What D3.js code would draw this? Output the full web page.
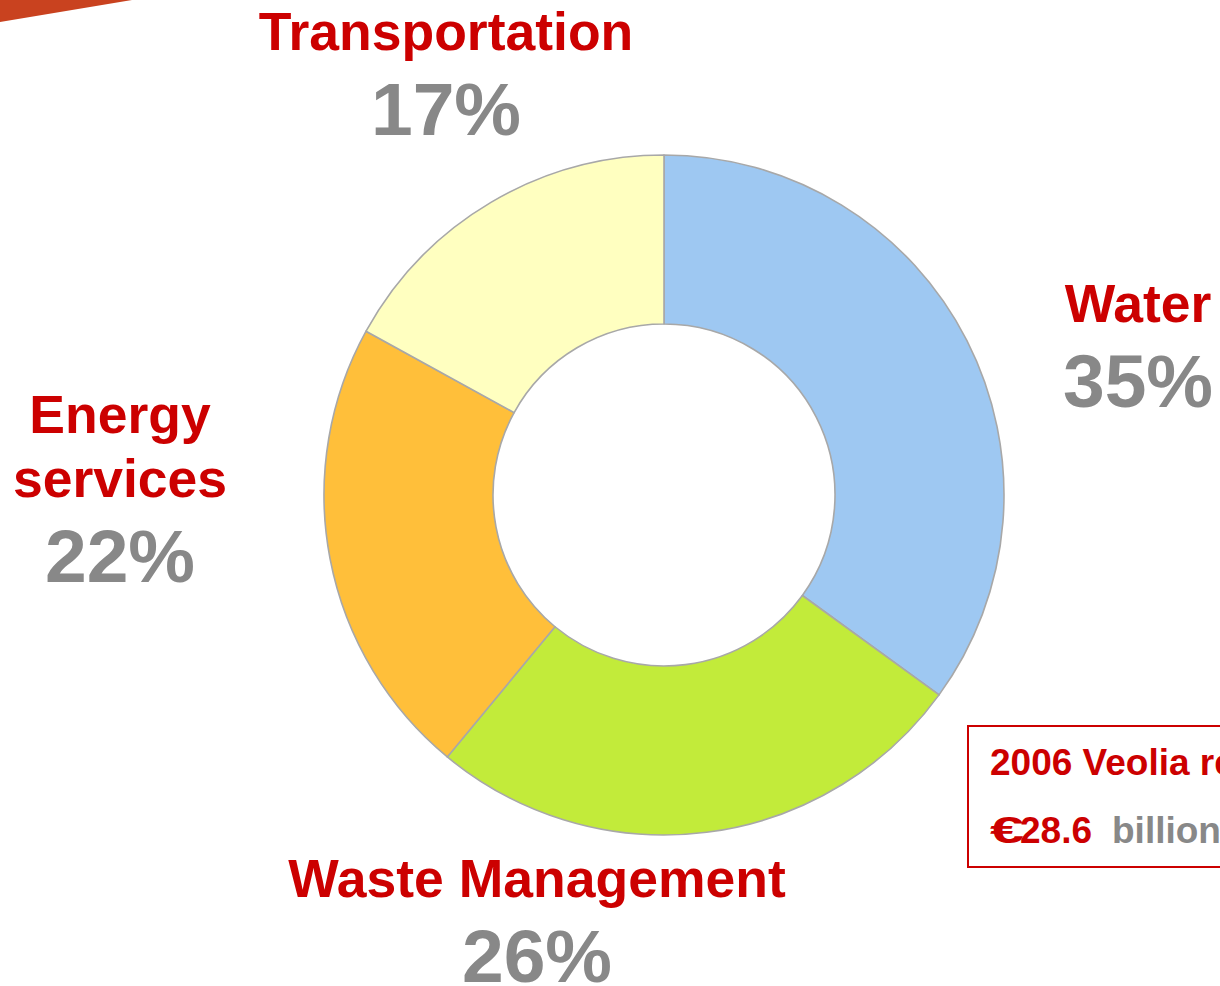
<!DOCTYPE html>
<html>
<head>
<meta charset="utf-8">
<script src="https://cdn.jsdelivr.net/npm/d3@7"></script>
<style>
  html, body { margin: 0; padding: 0; background: #fff; }
  svg { display: block; font-family: "Liberation Sans", Arial, sans-serif; font-weight: bold; }
</style>
</head>
<body>
<svg id="chart" width="1220" height="986"></svg>
<script>
// data
var segments = ["Water", "Waste Management", "Energy services", "Transportation"];
var shares = [35, 26, 22, 17];
var labelLines = [["Water"], ["Waste Management"], ["Energy", "services"], ["Transportation"]];
var revenueYear = "2006 Veolia revenue";
var revenueAmount = "28.6";
var revenueUnit = "billion";

// layout (label anchor points, first-line baseline)
var labelAnchor = [[1138, 322], [537, 897], [120, 433], [446, 50]];
var colors = ["#9ec8f2", "#c2eb3a", "#ffbf3a", "#ffffc0"];

var svg = d3.select("#chart");
var cx = 664, cy = 495, outerR = 340, innerR = 171;

// slide decoration, top-left
svg.append("path")
  .attr("d", "M0,0 L132,0 L0,22 Z")
  .attr("fill", "#c9421f");

var pie = d3.pie().sort(null).value(function (d) { return d; });
var arc = d3.arc().innerRadius(innerR).outerRadius(outerR);

var g = svg.append("g").attr("transform", "translate(" + cx + "," + cy + ")");
g.selectAll(".slice")
  .data(pie(shares))
  .enter()
  .append("path")
  .attr("class", "slice")
  .attr("d", arc)
  .attr("fill", function (d, i) { return colors[i]; })
  .attr("stroke", "#a8a8a8")
  .attr("stroke-width", 1.6)
  .attr("stroke-linejoin", "round");

// labels
segments.forEach(function (name, i) {
  var a = labelAnchor[i];
  var lines = labelLines[i];
  var t = svg.append("text")
    .attr("text-anchor", "middle")
    .attr("fill", "#cc0000")
    .style("font-size", "53.5px");
  lines.forEach(function (ln, j) {
    t.append("tspan").attr("x", a[0]).attr("y", a[1] + j * 64).text(ln);
  });
  svg.append("text")
    .attr("x", a[0])
    .attr("y", a[1] + (lines.length - 1) * 64 + 85)
    .attr("text-anchor", "middle")
    .attr("fill", "#888888")
    .style("font-size", "75px")
    .text(shares[i] + "%");
});

// revenue box
svg.append("rect")
  .attr("x", 968).attr("y", 726)
  .attr("width", 300).attr("height", 141)
  .attr("fill", "none")
  .attr("stroke", "#cc0000")
  .attr("stroke-width", 2);

svg.append("text")
  .attr("x", 990).attr("y", 775)
  .attr("fill", "#cc0000")
  .style("font-size", "37px")
  .text(revenueYear);

// euro sign is stretched and overlaps the amount, as in the slide
svg.append("text")
  .attr("x", 990).attr("y", 843)
  .attr("fill", "#cc0000")
  .attr("textLength", 34)
  .attr("lengthAdjust", "spacingAndGlyphs")
  .style("font-size", "37px")
  .text("\u20ac");

var rev = svg.append("text")
  .attr("x", 1020).attr("y", 843)
  .style("font-size", "37px");
rev.append("tspan").attr("fill", "#cc0000").text(revenueAmount);
rev.append("tspan").attr("fill", "#888888").attr("x", 1112).text(revenueUnit);
</script>
</body>
</html>
